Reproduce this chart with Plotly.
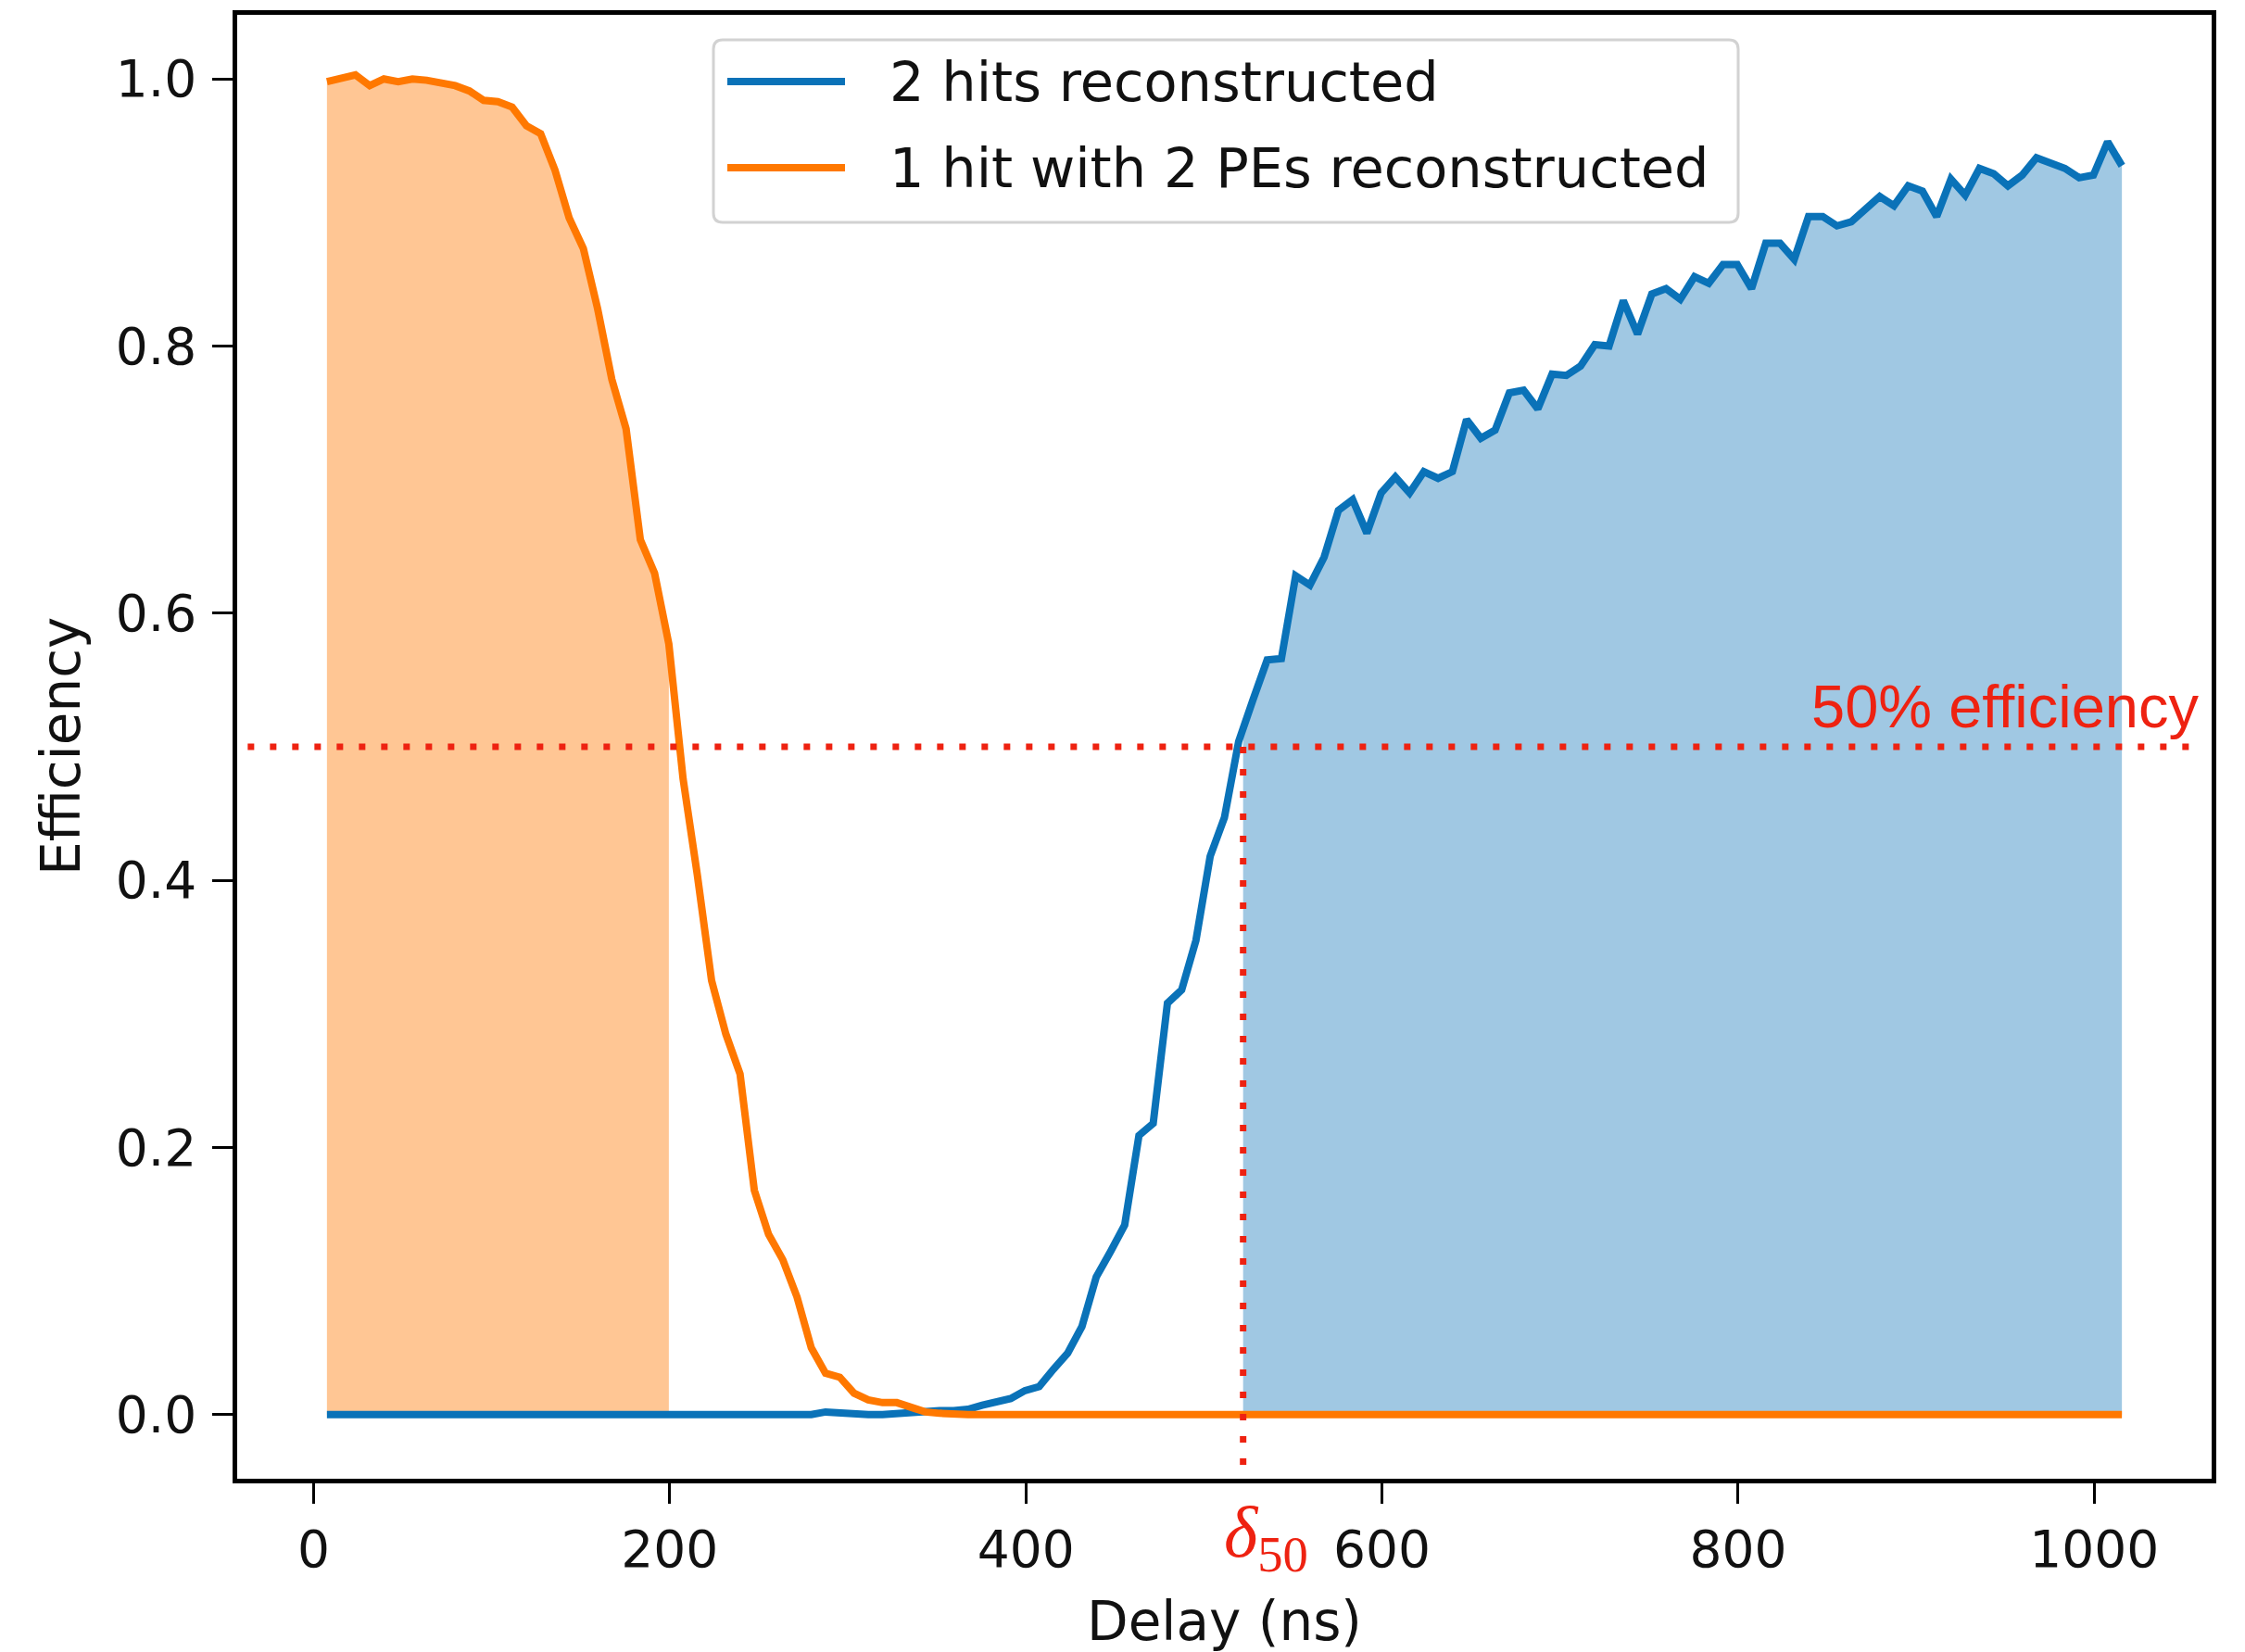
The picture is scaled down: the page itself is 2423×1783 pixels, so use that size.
import numpy as np
import plotly.graph_objects as go

# Delay scan: one sample every 8 ns
delay_ns = np.arange(7.5, 1016.0, 8.0)

# Efficiency of reconstructing two separate hits
eff_two_hits = [
    0.0, 0.0, 0.0, 0.0, 0.0, 0.0, 0.0, 0.0, 0.0, 0.0,
    0.0, 0.0, 0.0, 0.0, 0.0, 0.0, 0.0, 0.0, 0.0, 0.0,
    0.0, 0.0, 0.0, 0.0, 0.0, 0.0, 0.0, 0.0, 0.0, 0.0,
    0.0, 0.0, 0.0, 0.0, 0.0, 0.002, 0.001, 0.0, 0.0, 0.0,
    0.001, 0.001, 0.002, 0.003, 0.003, 0.004, 0.007, 0.010, 0.012, 0.018,
    0.021, 0.034, 0.046, 0.066, 0.103, 0.122, 0.142, 0.209, 0.218, 0.308,
    0.318, 0.355, 0.418, 0.447, 0.504, 0.535, 0.565, 0.566, 0.628, 0.621,
    0.642, 0.677, 0.685, 0.660, 0.690, 0.702, 0.690, 0.706, 0.701, 0.706,
    0.745, 0.731, 0.737, 0.765, 0.767, 0.753, 0.779, 0.778, 0.785, 0.801,
    0.800, 0.834, 0.809, 0.839, 0.843, 0.835, 0.852, 0.847, 0.861, 0.861,
    0.843, 0.877, 0.877, 0.865, 0.897, 0.897, 0.890, 0.893, 0.902, 0.912,
    0.905, 0.920, 0.916, 0.897, 0.925, 0.913, 0.933, 0.929, 0.920, 0.928,
    0.941, 0.937, 0.933, 0.926, 0.928, 0.953, 0.935,
]

# Efficiency of reconstructing a single hit carrying 2 PEs
eff_one_hit_two_pe = [
    0.998, 1.000, 1.003, 0.995, 1.000, 0.998, 1.000, 0.999, 0.997, 0.995,
    0.991, 0.984, 0.983, 0.979, 0.965, 0.959, 0.932, 0.896, 0.873, 0.828,
    0.775, 0.738, 0.655, 0.630, 0.577, 0.476, 0.404, 0.325, 0.285, 0.255,
    0.168, 0.135, 0.116, 0.088, 0.050, 0.031, 0.028, 0.016, 0.011, 0.009,
    0.009, 0.005, 0.002, 0.001, 0.0, 0.0, 0.0, 0.0, 0.0, 0.0,
    0.001, 0.0, 0.0, 0.0, 0.0, 0.0, 0.0, 0.0, 0.0, 0.0,
    0.0, 0.0, 0.0, 0.0, 0.0, 0.0, 0.0, 0.0, 0.0, 0.0,
    0.0, 0.0, 0.0, 0.0, 0.0, 0.0, 0.0, 0.0, 0.0, 0.0,
    0.0, 0.0, 0.0, 0.0, 0.0, 0.0, 0.0, 0.0, 0.0, 0.0,
    0.0, 0.0, 0.0, 0.0, 0.0, 0.0, 0.0, 0.0, 0.0, 0.0,
    0.0, 0.0, 0.0, 0.0, 0.0, 0.0, 0.0, 0.0, 0.0, 0.0,
    0.0, 0.0, 0.0, 0.0, 0.0, 0.0, 0.0, 0.0, 0.0, 0.0,
    0.0, 0.0, 0.0, 0.0, 0.0, 0.0, 0.0,
]

series_names = ["2 hits reconstructed", "1 hit with 2 PEs reconstructed"]
x_ticks = [0, 200, 400, 600, 800, 1000]
y_ticks = [0.0, 0.2, 0.4, 0.6, 0.8, 1.0]
y_tick_text = ["0.0", "0.2", "0.4", "0.6", "0.8", "1.0"]

HALF_EFF = 0.5      # 50% efficiency threshold
DELTA_50 = 522.0    # delay where the two-hit efficiency reaches 50%

BLUE = "#0a72b8"
ORANGE = "#ff7800"
RED = "#ee2211"
BLUE_FILL = "rgba(10,114,184,0.39)"
ORANGE_FILL = "rgba(255,120,0,0.42)"
TEXT = "#111111"
FONT = "DejaVu Sans"
LINE_W = 8

blue = np.array(eff_two_hits)
orange = np.array(eff_one_hit_two_pe)

# Region where the single-hit reconstruction is still above 50%
orange_mask = (orange >= HALF_EFF) & (delay_ns < 300)
# Region beyond delta_50 for the two-hit reconstruction
blue_mask = delay_ns >= DELTA_50
blue_fill_x = np.concatenate([[DELTA_50], delay_ns[blue_mask]])
blue_fill_y = np.concatenate([[np.interp(DELTA_50, delay_ns, blue)], blue[blue_mask]])

fig = go.Figure()
fig.add_trace(go.Scatter(x=delay_ns[orange_mask], y=orange[orange_mask], mode="lines",
                         line=dict(width=0), fill="tozeroy", fillcolor=ORANGE_FILL,
                         showlegend=False, hoverinfo="skip"))
fig.add_trace(go.Scatter(x=blue_fill_x, y=blue_fill_y, mode="lines",
                         line=dict(width=0), fill="tozeroy", fillcolor=BLUE_FILL,
                         showlegend=False, hoverinfo="skip"))
fig.add_trace(go.Scatter(x=delay_ns, y=blue, mode="lines", name=series_names[0],
                         line=dict(color=BLUE, width=LINE_W), showlegend=False))
fig.add_trace(go.Scatter(x=delay_ns, y=orange, mode="lines", name=series_names[1],
                         line=dict(color=ORANGE, width=LINE_W), showlegend=False))

# Plot-area geometry in pixels (used to place the framed legend)
W, H = 2423, 1783
ML, MR, MT, MB = 256, 36, 16, 187
PW, PH = W - ML - MR, H - MT - MB


def px(xpix):
    return (xpix - ML) / PW


def py(ypix):
    return (H - MB - ypix) / PH


dot = dict(color=RED, width=7, dash="7px,17px")
shapes = [
    dict(type="line", xref="x", yref="y", x0=-37, x1=1059, y0=HALF_EFF, y1=HALF_EFF, line=dot),
    dict(type="line", xref="x", yref="y", x0=DELTA_50, x1=DELTA_50, y0=HALF_EFF, y1=-0.048, line=dot),
]

# Legend frame with rounded corners
lx0, lx1, ly0, ly1 = px(770), px(1876), py(240), py(43)
rx, ry = 10 / PW, 10 / PH
frame = (f"M{lx0 + rx},{ly0} L{lx1 - rx},{ly0} Q{lx1},{ly0} {lx1},{ly0 + ry} "
         f"L{lx1},{ly1 - ry} Q{lx1},{ly1} {lx1 - rx},{ly1} "
         f"L{lx0 + rx},{ly1} Q{lx0},{ly1} {lx0},{ly1 - ry} "
         f"L{lx0},{ly0 + ry} Q{lx0},{ly0} {lx0 + rx},{ly0} Z")
shapes.append(dict(type="path", xref="paper", yref="paper", path=frame,
                   line=dict(color="#d2d2d2", width=3), fillcolor="white", layer="above"))
legend_rows = [(88, BLUE, series_names[0]), (181, ORANGE, series_names[1])]
annotations = []
for ypix, col, label in legend_rows:
    shapes.append(dict(type="line", xref="paper", yref="paper", x0=px(785), x1=px(912),
                       y0=py(ypix), y1=py(ypix), line=dict(color=col, width=LINE_W), layer="above"))
    annotations.append(dict(xref="paper", yref="paper", x=px(958), y=py(ypix), text=label,
                            xanchor="left", yanchor="middle", showarrow=False,
                            font=dict(family=FONT, size=59, color=TEXT)))

annotations += [
    dict(xref="x", yref="y", x=1059, y=HALF_EFF, text="50% efficiency", xanchor="right",
         yanchor="bottom", yshift=6, showarrow=False, borderpad=0,
         font=dict(family="Liberation Sans", size=65, color=RED)),
    dict(xref="x", yref="paper", x=535, y=-0.008, text="<i>δ</i><sub>50</sub>",
         xanchor="center", yanchor="top", showarrow=False, borderpad=0,
         font=dict(family="Liberation Serif", size=78, color=RED)),
    dict(xref="paper", yref="paper", x=0.5, y=py(1750), text="Delay (ns)", xanchor="center",
         yanchor="middle", showarrow=False, font=dict(family=FONT, size=58, color=TEXT)),
    dict(xref="paper", yref="paper", x=px(66), y=0.5, text="Efficiency", textangle=-90,
         xanchor="center", yanchor="middle", showarrow=False,
         font=dict(family=FONT, size=58, color=TEXT)),
]

axis_common = dict(showgrid=False, zeroline=False, showline=True, linecolor="black",
                   linewidth=4.5, mirror=True, ticks="outside", ticklen=22, tickwidth=3,
                   tickcolor="black", tickfont=dict(family=FONT, size=55, color=TEXT))

fig.update_layout(
    width=W, height=H,
    margin=dict(l=ML, r=MR, t=MT, b=MB),
    paper_bgcolor="white", plot_bgcolor="white",
    xaxis=dict(range=[-42.9, 1065.9], tickvals=x_ticks, ticklabelstandoff=2, **axis_common),
    yaxis=dict(range=[-0.048, 1.048], tickvals=y_ticks, ticktext=y_tick_text,
               ticklabelstandoff=6, **axis_common),
    shapes=shapes,
    annotations=annotations,
    showlegend=False,
)

fig.write_html("out.html")
